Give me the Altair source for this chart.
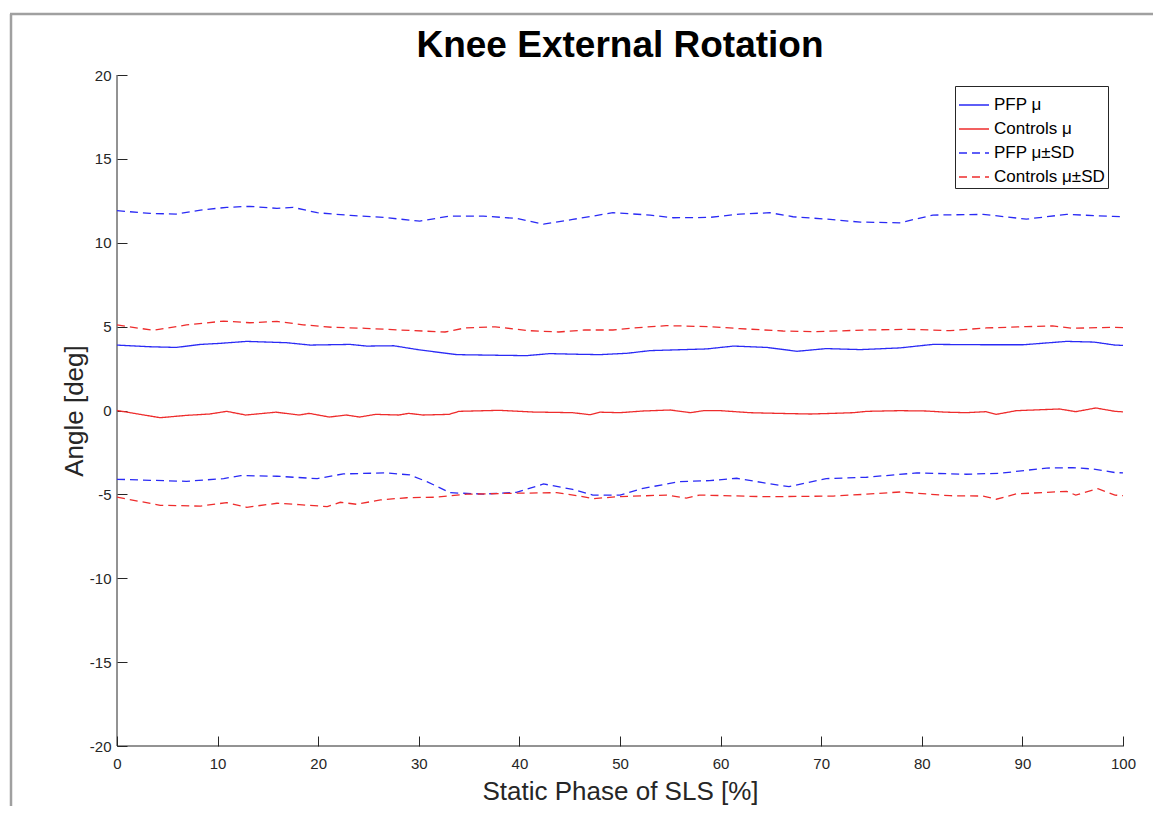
import altair as alt
import pandas as pd

# ---------------- data ----------------
series_order = ["PFP μ", "Controls μ", "PFP μ±SD", "Controls μ±SD"]

pfp_mean_x = [0, 3.3, 5.9, 8.3, 10.2, 12.9, 16.9, 19.2, 23.2, 24.8, 27.5, 30.1, 33.8, 38.1, 40.7,
              43.0, 46.0, 48.0, 49.3, 50.7, 53.0, 58.6, 61.3, 64.6, 67.6, 70.5, 73.9, 77.8, 81.1, 86.1,
              90.1, 94.4, 97.1, 99.2, 100]
pfp_mean_y = [3.90, 3.80, 3.76, 3.94, 4.00, 4.12, 4.04, 3.90, 3.94, 3.84, 3.86, 3.61, 3.33, 3.29, 3.27,
              3.39, 3.35, 3.33, 3.37, 3.41, 3.57, 3.67, 3.84, 3.76, 3.53, 3.69, 3.63, 3.73, 3.94, 3.92,
              3.92, 4.12, 4.08, 3.90, 3.88]

ctrl_mean_x = [0, 4.3, 6.9, 9.2, 10.9, 12.8, 15.8, 18.1, 19.1, 21.1, 22.8, 24.1, 25.7, 28.0, 29.0,
               30.4, 33.0, 34.0, 38.0, 41.3, 45.3, 47.0, 48.0, 50.0, 52.3, 55.0, 57.0, 58.3, 60.0, 62.9,
               65.6, 68.9, 71.2, 73.2, 74.5, 77.8, 80.4, 82.4, 84.4, 86.4, 87.4, 89.4, 93.7, 95.3, 97.3,
               99.2, 100]
ctrl_mean_y = [0.0, -0.43, -0.29, -0.21, -0.05, -0.27, -0.10, -0.27, -0.17, -0.39, -0.27, -0.39, -0.23, -0.27, -0.17,
               -0.27, -0.23, -0.05, 0.01, -0.09, -0.13, -0.25, -0.10, -0.13, -0.03, 0.03, -0.13, -0.01, -0.01, -0.13,
               -0.17, -0.21, -0.17, -0.13, -0.05, -0.01, -0.03, -0.10, -0.13, -0.07, -0.23, -0.01, 0.09, -0.07, 0.15,
               -0.05, -0.08]

pfp_sd_hi_x = [0, 3.3, 5.9, 8.3, 10.9, 13.2, 15.9, 17.5, 19.9, 23.2, 26.5, 30.1, 33.1, 36.4, 39.7,
               42.4, 45.3, 49.3, 53.0, 55.3, 58.9, 61.9, 64.9, 67.2, 70.5, 73.9, 77.8, 81.1, 86.1, 90.4,
               94.4, 99.0, 100]
pfp_sd_hi_y = [11.91, 11.75, 11.71, 11.95, 12.11, 12.17, 12.05, 12.11, 11.79, 11.63, 11.51, 11.29, 11.59, 11.59, 11.45,
               11.11, 11.39, 11.79, 11.65, 11.49, 11.51, 11.71, 11.79, 11.55, 11.41, 11.23, 11.19, 11.65, 11.69, 11.41,
               11.69, 11.57, 11.55]

pfp_sd_lo_x = [0, 3.3, 6.9, 10.6, 12.3, 15.9, 19.9, 22.5, 26.8, 29.1, 30.8, 33.1, 36.4, 39.7, 42.4,
               45.3, 47.3, 50.0, 52.3, 55.9, 58.9, 61.6, 64.2, 66.8, 70.5, 74.5, 79.5, 84.4, 87.8, 92.4,
               95.0, 97.1, 99.2, 100]
pfp_sd_lo_y = [-4.10, -4.16, -4.22, -4.06, -3.88, -3.92, -4.06, -3.78, -3.72, -3.84, -4.24, -4.90, -4.98, -4.88, -4.38,
               -4.70, -5.04, -5.04, -4.64, -4.24, -4.18, -4.04, -4.30, -4.54, -4.06, -3.98, -3.72, -3.80, -3.74, -3.43,
               -3.41, -3.49, -3.70, -3.72]

ctrl_sd_hi_x = [0, 3.6, 6.9, 10.6, 13.2, 15.9, 18.5, 21.4, 24.7, 28.0, 32.6, 34.6, 37.6, 40.9, 43.9,
                46.5, 49.3, 51.3, 54.6, 58.9, 61.9, 66.2, 69.5, 74.5, 78.8, 82.8, 86.4, 90.4, 93.0, 95.0,
                99.0, 100]
ctrl_sd_hi_y = [5.10, 4.78, 5.10, 5.33, 5.23, 5.31, 5.11, 4.96, 4.90, 4.80, 4.68, 4.92, 4.99, 4.76, 4.68,
                4.80, 4.80, 4.92, 5.06, 5.00, 4.88, 4.74, 4.70, 4.80, 4.84, 4.76, 4.92, 5.00, 5.04, 4.90,
                4.96, 4.94]

ctrl_sd_lo_x = [0, 4.3, 8.3, 10.9, 12.9, 15.9, 18.1, 20.9, 22.2, 23.8, 26.2, 28.8, 31.5, 34.8, 39.7,
                43.7, 46.0, 47.3, 49.7, 54.6, 56.6, 57.9, 64.6, 71.2, 74.5, 77.8, 82.8, 86.1, 87.4, 89.4,
                94.4, 95.3, 97.5, 99.2, 100]
ctrl_sd_lo_y = [-5.17, -5.65, -5.70, -5.49, -5.77, -5.53, -5.61, -5.73, -5.47, -5.59, -5.33, -5.20, -5.17, -4.99, -4.93,
                -4.90, -5.10, -5.26, -5.14, -5.04, -5.22, -5.04, -5.14, -5.10, -4.99, -4.86, -5.08, -5.10, -5.29, -4.97,
                -4.82, -5.04, -4.66, -5.04, -5.08]

x_ticks = list(range(0, 101, 10))
y_ticks = list(range(-20, 21, 5))

# ---------------- table ----------------
rows = []
def add(label, part, xs, ys):
    for x, y in zip(xs, ys):
        rows.append({"phase": x, "angle": y, "series": label, "part": part})

add("PFP μ", "pfp_mean", pfp_mean_x, pfp_mean_y)
add("Controls μ", "ctrl_mean", ctrl_mean_x, ctrl_mean_y)
add("PFP μ±SD", "pfp_hi", pfp_sd_hi_x, pfp_sd_hi_y)
add("PFP μ±SD", "pfp_lo", pfp_sd_lo_x, pfp_sd_lo_y)
add("Controls μ±SD", "ctrl_hi", ctrl_sd_hi_x, ctrl_sd_hi_y)
add("Controls μ±SD", "ctrl_lo", ctrl_sd_lo_x, ctrl_sd_lo_y)
df = pd.DataFrame(rows)

W, H = 1006, 671
FONT = "Liberation Sans"
AX = "#262626"
BLUE = "#2a2af5"
RED = "#ee2c2c"

legend = alt.Legend(
    title=None, orient="none", legendX=838, legendY=11,
    symbolType="stroke", symbolSize=900, symbolStrokeWidth=1.4,
    labelFont=FONT, labelFontSize=17, labelColor="#000000", labelOffset=4,
    strokeColor=AX, fillColor="white", padding=3, rowPadding=0,
)

lines = alt.Chart(df).mark_line(strokeWidth=1.3).encode(
    x=alt.X("phase:Q",
            scale=alt.Scale(domain=[0, 100], nice=False, zero=False),
            axis=alt.Axis(values=x_ticks, labelExpr="'' + datum.value", grid=False, domain=False,
                          offset=-10, tickSize=10, tickColor=AX, tickWidth=1,
                          labelFont=FONT, labelFontSize=15, labelColor=AX, labelPadding=10,
                          labelFlush=False, labelOverlap=False,
                          title="Static Phase of SLS [%]", titleFont=FONT, titleFontSize=26,
                          titleFontWeight="normal", titleColor=AX, titleBaseline="alphabetic",
                          titleAlign="center", titleX=W / 2, titleY=63)),
    y=alt.Y("angle:Q",
            scale=alt.Scale(domain=[-20, 20], nice=False, zero=False),
            axis=alt.Axis(values=y_ticks, labelExpr="'' + datum.value", grid=False, domain=False,
                          offset=-10, tickSize=10, tickColor=AX, tickWidth=1,
                          labelFont=FONT, labelFontSize=15, labelColor=AX, labelPadding=6,
                          labelFlush=False, labelOverlap=False,
                          title="Angle [deg]", titleFont=FONT, titleFontSize=26,
                          titleFontWeight="normal", titleColor=AX, titleBaseline="alphabetic",
                          titleAlign="center", titleAngle=270, titleX=-45, titleY=H / 2)),
    color=alt.Color("series:N", sort=series_order,
                    scale=alt.Scale(domain=series_order, range=[BLUE, RED, BLUE, RED]),
                    legend=legend),
    strokeDash=alt.StrokeDash("series:N", sort=series_order,
                              scale=alt.Scale(domain=series_order,
                                              range=[[1, 0], [1, 0], [8, 5], [8, 5]]),
                              legend=legend),
    detail="part:N",
)

one = pd.DataFrame({"t": ["Knee External Rotation"]})

y_domain = alt.Chart(one).mark_rule(color=AX, strokeWidth=1).encode(
    x=alt.value(0), y=alt.value(0), y2=alt.value(H))
x_domain = alt.Chart(one).mark_rule(color=AX, strokeWidth=1).encode(
    y=alt.value(H), x=alt.value(0), x2=alt.value(W))

frame_left = alt.Chart(one).mark_rule(color="#a0a0a0", strokeWidth=2.5).encode(
    x=alt.value(-106), y=alt.value(-61), y2=alt.value(H + 70))
frame_top = alt.Chart(one).mark_rule(color="#a0a0a0", strokeWidth=2.5).encode(
    y=alt.value(-61), x=alt.value(-107), x2=alt.value(W + 40))

title = alt.Chart(one).mark_text(font=FONT, fontSize=37, fontWeight="bold", color="black",
                                 baseline="alphabetic", align="center").encode(
    text="t:N", x=alt.value(W / 2), y=alt.value(-18))

chart = alt.layer(frame_left, frame_top, y_domain, x_domain, lines, title).properties(
    width=W, height=H,
    autosize=alt.AutoSizeParams(type="none"),
    padding={"left": 109, "top": 67, "right": 30, "bottom": 60},
    background="white",
).configure_view(stroke=None)

chart.save("out.html", embed_options={"renderer": "svg", "actions": False})
